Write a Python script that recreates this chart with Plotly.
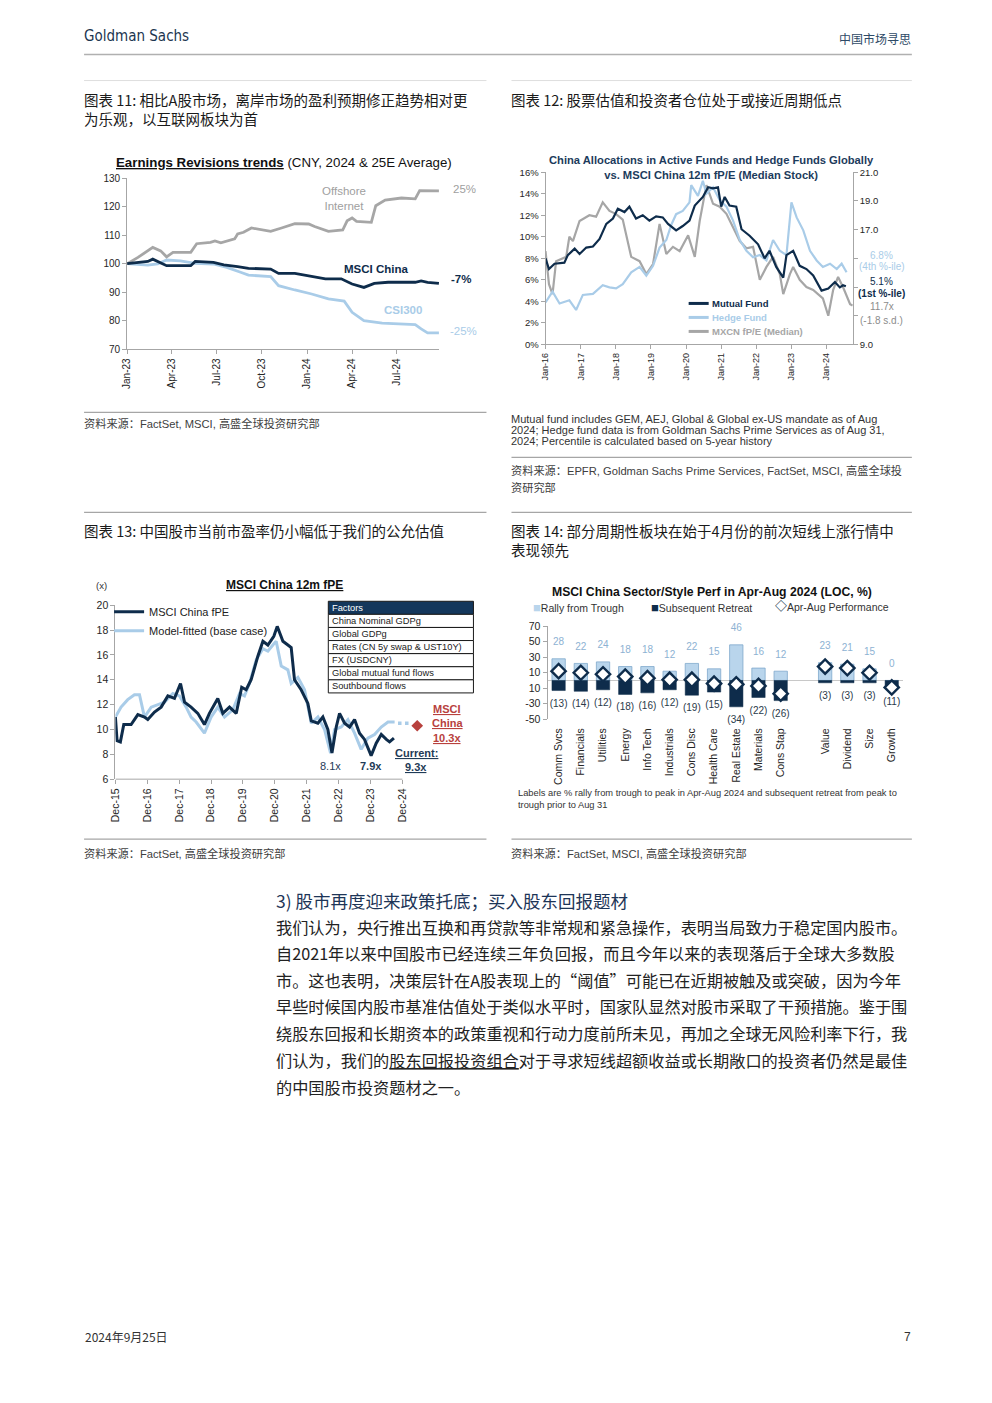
import plotly.graph_objects as go

W, H = 992, 1403
# small calibration so that page positions land where the reference shows them
SX, OX, SY, OY = 0.992, 6.0, 0.992, 5.4


def px(x):
    return ((x - OX) / SX) / W


def py(y):
    return 1 - ((y - OY) / SY) / H


NAVY = "#0e2c4b"
LBLUE = "#a9cce8"
GRAY = "#a6a6a6"
RED = "#b8413d"
TXT = "#262626"
AXC = "#a6a6a6"
CN = "Noto Sans CJK SC"
LAT = "Liberation Sans, Arial, Noto Sans CJK SC, sans-serif"

# ---------------- Chart 11: Earnings revisions ----------------
c11_internet_dates = ["2023-01-01", "2023-01-23", "2023-02-22", "2023-03-10", "2023-03-22", "2023-04-04",
                      "2023-05-10", "2023-05-22", "2023-06-19", "2023-06-28", "2023-07-10", "2023-07-22",
                      "2023-08-07", "2023-08-13", "2023-08-25", "2023-09-10", "2023-10-01", "2023-10-19",
                      "2023-11-10", "2023-12-07", "2024-01-04", "2024-01-16", "2024-02-13", "2024-03-13",
                      "2024-03-22", "2024-04-01", "2024-04-10", "2024-05-10", "2024-05-19", "2024-06-07",
                      "2024-07-10", "2024-08-07", "2024-08-16", "2024-09-24"]
c11_internet = [100, 102.2, 105.7, 104.5, 102.4, 104, 104, 107, 107.5, 108, 107.3, 108, 108.7, 110.4, 111,
                112.5, 111.8, 111.3, 112.5, 114, 113.9, 113, 111.3, 111.8, 115, 116, 114.8, 114.5, 120.3,
                122.3, 123, 122.7, 125.6, 125.5]

c11_msci_dates = ["2023-01-01", "2023-01-23", "2023-02-12", "2023-02-22", "2023-03-04", "2023-03-22",
                  "2023-05-10", "2023-05-19", "2023-06-25", "2023-07-16", "2023-08-13", "2023-09-04",
                  "2023-10-19", "2023-11-04", "2023-12-07", "2024-01-04", "2024-02-07", "2024-03-10",
                  "2024-04-01", "2024-04-25", "2024-05-16", "2024-06-13", "2024-08-07", "2024-08-19",
                  "2024-09-01", "2024-09-24"]
c11_msci = [100, 100.5, 100.8, 101.6, 100.8, 99.3, 99.3, 100.8, 100.5, 99.6, 99.0, 98.4, 98.1, 96.6, 96.6,
            95.8, 94.7, 94.7, 92.9, 91.7, 93.1, 93.5, 93.5, 94.0, 93.5, 93.1]

c11_csi_dates = ["2023-01-01", "2023-02-12", "2023-03-04", "2023-03-22", "2023-04-19", "2023-05-19",
                 "2023-06-25", "2023-07-22", "2023-08-19", "2023-09-04", "2023-10-19", "2023-11-04",
                 "2023-12-07", "2024-01-10", "2024-02-13", "2024-03-16", "2024-04-01", "2024-04-25",
                 "2024-06-01", "2024-08-07", "2024-08-19", "2024-09-01", "2024-09-24"]
c11_csi = [100, 99.5, 99.9, 101.3, 101.0, 100.1, 99.9, 98.7, 97.0, 96.0, 95.5, 92.3, 90.8, 89.4, 87.7, 86.9,
           83.0, 80.1, 79.2, 78.7, 77.2, 75.8, 75.8]

# ---------------- Chart 12: Allocations vs fP/E ----------------
c12_mf_dates = ["2016-01-01", "2016-02-06", "2016-04-04", "2016-07-15", "2016-08-20", "2016-10-30", "2016-12-20",
                "2017-02-28", "2017-05-08", "2017-07-16", "2017-09-24", "2017-12-02",
                "2018-01-22", "2018-04-01", "2018-05-22", "2018-07-30", "2018-10-08", "2018-12-16",
                "2019-02-24", "2019-05-04", "2019-06-28", "2019-09-20", "2019-11-28",
                "2020-02-06", "2020-04-01", "2020-06-24", "2020-08-18", "2020-10-08", "2020-11-28",
                "2021-01-01", "2021-02-06", "2021-03-28", "2021-06-06", "2021-07-31", "2021-10-23",
                "2022-01-19", "2022-03-28", "2022-05-18", "2022-07-27", "2022-10-08", "2022-11-10",
                "2023-01-19", "2023-03-28", "2023-06-06", "2023-08-15", "2023-11-10",
                "2024-01-19", "2024-03-28", "2024-05-18", "2024-06-20", "2024-07-20"]
c12_mf = [8.0, 7.0, 7.5, 7.6, 8.3, 8.9, 8.4,
          9.0, 9.1, 9.8, 11.2, 11.7,
          12.6, 12.3, 12.8, 11.7, 12.0, 11.5,
          11.9, 11.8, 11.2, 10.6, 11.0,
          11.5, 12.9, 13.7, 14.6, 14.5, 14.6,
          12.8, 13.7, 12.9, 12.8, 10.7, 10.1,
          9.3, 8.0, 8.7, 7.2, 6.2, 8.3,
          8.7, 7.3, 7.0, 6.4, 5.0,
          5.2, 5.8, 5.3, 5.5, 5.4]

c12_hf_dates = ["2016-01-01", "2016-03-14", "2016-05-26", "2016-09-05", "2016-11-14",
                "2017-01-23", "2017-05-08", "2017-08-18", "2017-10-27",
                "2018-01-04", "2018-03-14", "2018-06-10", "2018-09-05", "2018-11-14",
                "2019-01-23", "2019-04-01", "2019-06-10", "2019-07-31", "2019-09-20", "2019-11-28",
                "2020-02-06", "2020-02-24", "2020-05-04", "2020-06-24", "2020-07-31", "2020-10-08", "2020-12-16",
                "2021-02-24", "2021-05-04", "2021-07-13", "2021-09-20", "2021-11-28",
                "2022-02-06", "2022-04-16", "2022-06-24", "2022-09-02", "2022-11-10",
                "2023-01-01", "2023-02-24", "2023-05-04", "2023-07-13", "2023-09-20", "2023-11-24",
                "2024-02-06", "2024-04-16", "2024-06-06", "2024-07-27"]
c12_hf = [3.9, 4.9, 3.8, 4.1, 3.2,
          4.6, 4.7, 5.5, 5.3,
          5.2, 5.6, 6.7, 7.2, 6.4,
          7.3, 9.0, 9.7, 11.1, 12.1, 12.4,
          13.2, 14.8, 13.8, 15.2, 14.0, 14.6, 13.4,
          12.8, 11.5, 9.7, 8.7, 8.1,
          8.3, 7.8, 9.7, 8.7, 8.3,
          13.2, 11.8, 10.6, 8.7, 7.8, 7.2,
          7.5, 7.0, 7.5, 6.7]

c12_pe_dates = ["2016-01-01", "2016-02-06", "2016-03-14", "2016-04-20", "2016-08-03", "2016-09-05", "2016-10-12",
                "2016-12-20", "2017-04-01", "2017-06-10", "2017-08-18", "2017-10-27",
                "2018-01-01", "2018-03-14", "2018-06-10", "2018-09-05", "2018-11-14",
                "2019-01-23", "2019-04-01", "2019-06-10", "2019-08-18", "2019-10-27",
                "2020-01-23", "2020-04-01", "2020-05-22", "2020-07-31", "2020-10-08", "2020-12-16",
                "2021-02-24", "2021-05-04", "2021-07-13", "2021-09-20", "2021-11-28",
                "2022-02-06", "2022-04-16", "2022-06-24", "2022-09-02", "2022-10-08", "2022-12-16",
                "2023-01-19", "2023-03-28", "2023-06-06", "2023-08-15", "2023-11-24",
                "2024-01-19", "2024-03-10", "2024-04-30", "2024-06-20", "2024-09-02", "2024-09-28"]
c12_pe = [15.5, 13.2, 12.5, 14.8, 15.1, 16.5, 16.2, 17.6,
          18.0, 17.9, 18.9, 18.3,
          18.1, 17.7, 15.1, 14.8, 13.9,
          14.6, 17.4, 15.3, 15.8, 15.5,
          16.6, 15.1, 17.6, 20.1, 18.8, 18.6,
          18.1, 17.2, 16.2, 15.7, 15.8,
          13.5, 14.4, 15.1, 13.9, 12.5, 13.9,
          14.4, 13.5, 13.0, 12.8, 12.2,
          11.0, 12.8, 13.7, 13.0, 11.8, 11.7]

c12_right_tick_vals = [9, 11, 13, 15, 17, 19, 21]
c12_right_tick_text = ["9.0", "", "", "", "17.0", "19.0", "21.0"]

c12_notes = ["Mutual fund includes GEM, AEJ, Global & Global ex-US mandate as of Aug",
             "2024; Hedge fund data is from Goldman Sachs Prime Services as of Aug 31,",
             "2024; Percentile is calculated based on 5-year history"]

# ---------------- Chart 13: MSCI China 12m fPE ----------------
c13_pe_dates = ["2015-12-01", "2015-12-20", "2016-01-27", "2016-03-06", "2016-05-29", "2016-08-14", "2016-10-29",
                "2016-12-06", "2017-02-21", "2017-05-08", "2017-07-24", "2017-10-08", "2017-12-16",
                "2018-01-31", "2018-04-16", "2018-07-02", "2018-09-16", "2018-11-12",
                "2019-02-16", "2019-04-15", "2019-06-30", "2019-09-15", "2019-11-17",
                "2020-01-07", "2020-03-04", "2020-05-20", "2020-07-17", "2020-09-12", "2020-11-19", "2020-12-28",
                "2021-02-04", "2021-03-03", "2021-04-29", "2021-06-06", "2021-07-14", "2021-09-28", "2021-12-14",
                "2022-01-22", "2022-04-08", "2022-06-04", "2022-07-31", "2022-09-16", "2022-11-04", "2022-12-12",
                "2023-02-08", "2023-04-06", "2023-06-02", "2023-07-29", "2023-09-24", "2023-12-09",
                "2024-02-05", "2024-04-03", "2024-05-31", "2024-07-07", "2024-08-26"]
c13_pe = [11.0, 9.1, 9.0, 10.4, 10.4, 11.2, 11.0, 10.8,
          11.4, 11.8, 12.7, 12.5, 13.7,
          12.2, 11.8, 11.3, 10.4, 11.3,
          12.5, 11.3, 11.8, 11.3, 13.4,
          13.2, 14.0, 15.9, 17.1, 16.8, 17.5, 18.3,
          17.6, 17.1, 16.8, 16.6, 14.0, 13.2, 12.1,
          10.7, 10.5, 11.0, 10.0, 8.1, 10.2, 11.3,
          10.5, 10.2, 10.8, 9.7, 9.2, 7.9,
          8.9, 9.6, 9.2, 9.0, 9.3]

c13_model_dates = ["2015-12-01", "2016-02-04", "2016-04-20", "2016-07-06", "2016-09-02", "2016-10-29",
                   "2017-01-14", "2017-06-16", "2017-09-19", "2017-12-04", "2018-02-19", "2018-04-16",
                   "2018-06-13", "2018-09-16", "2018-12-01", "2019-02-16", "2019-05-04", "2019-08-08",
                   "2019-10-23", "2019-12-19", "2020-02-14", "2020-05-01", "2020-07-17", "2020-09-12",
                   "2020-11-08", "2020-12-16", "2021-02-12", "2021-04-29", "2021-06-06", "2021-08-22",
                   "2021-11-06", "2022-01-22", "2022-04-08", "2022-06-23", "2022-08-31", "2022-10-16",
                   "2022-12-31", "2023-03-18", "2023-06-02", "2023-08-17", "2023-11-01", "2024-01-17",
                   "2024-04-03", "2024-06-19", "2024-09-03"]
c13_model = [11.0, 11.8, 12.4, 12.8, 12.8, 11.0, 11.8, 12.2, 12.9, 12.7, 11.8, 11.0, 10.6, 9.7, 11.0,
             11.8, 11.0, 11.6, 12.9, 12.7, 13.7, 15.6, 16.5, 16.3, 16.8, 17.1, 15.1, 14.8, 13.7, 14.2,
             13.2, 10.5, 11.0, 10.0, 8.1, 10.0, 10.2, 10.8, 9.7, 8.4, 9.3, 9.6, 10.2, 10.6, 10.6]

c13_fcst_dates = ["2024-10-12", "2025-03-13"]
c13_fcst = [10.5, 10.5]
c13_target_dates = ["2025-05-20"]
c13_target = [10.3]

c13_factors = ["China Nominal GDPg", "Global GDPg", "Rates (CN 5y swap & UST10Y)", "FX (USDCNY)",
               "Global mutual fund flows", "Southbound flows"]

# ---------------- Chart 14: Sector / style performance ----------------
c14_sectors = ["Comm Svcs", "Financials", "Utilities", "Energy", "Info Tech", "Industrials", "Cons Disc",
               "Health Care", "Real Estate", "Materials", "Cons Stap", "Value", "Dividend", "Size", "Growth"]
c14_axis_order = ["Comm Svcs", "Financials", "Utilities", "Energy", "Info Tech", "Industrials", "Cons Disc",
                  "Health Care", "Real Estate", "Materials", "Cons Stap", " ", "Value", "Dividend", "Size",
                  "Growth"]
c14_rally = [28, 22, 24, 18, 18, 12, 22, 15, 46, 16, 12, 23, 21, 15, 0]
c14_retreat = [-13, -14, -12, -18, -16, -12, -19, -15, -34, -22, -26, -3, -3, -3, -11]
c14_perf = [12, 10, 8, 5, 3, 1, 1, -4, -5, -7, -17, 18, 16, 10, -9]
c14_ytick_vals = [70, 50, 30, 10, -10, -30, -50]
c14_ytick_text = ["70", "50", "30", "10", "10", "-30", "-50"]

fig = go.Figure()

# ---- chart 11 traces
fig.add_trace(go.Scatter(x=c11_csi_dates, y=c11_csi, xaxis="x", yaxis="y", mode="lines",
                         line=dict(color=LBLUE, width=2.8), showlegend=False, hoverinfo="skip"))
fig.add_trace(go.Scatter(x=c11_internet_dates, y=c11_internet, xaxis="x", yaxis="y", mode="lines",
                         line=dict(color=GRAY, width=2.8), showlegend=False, hoverinfo="skip"))
fig.add_trace(go.Scatter(x=c11_msci_dates, y=c11_msci, xaxis="x", yaxis="y", mode="lines",
                         line=dict(color=NAVY, width=2.8), showlegend=False, hoverinfo="skip"))

# ---- chart 12 traces (y2 right = fP/E, y3 left = %)
fig.add_trace(go.Scatter(x=c12_pe_dates, y=c12_pe, xaxis="x2", yaxis="y2", mode="lines",
                         line=dict(color=GRAY, width=2.2), showlegend=False, hoverinfo="skip"))
fig.add_trace(go.Scatter(x=c12_hf_dates, y=c12_hf, xaxis="x2", yaxis="y3", mode="lines",
                         line=dict(color=LBLUE, width=2.2), showlegend=False, hoverinfo="skip"))
fig.add_trace(go.Scatter(x=c12_mf_dates, y=c12_mf, xaxis="x2", yaxis="y3", mode="lines",
                         line=dict(color=NAVY, width=2.2), showlegend=False, hoverinfo="skip"))

# ---- chart 13 traces
fig.add_trace(go.Scatter(x=c13_model_dates, y=c13_model, xaxis="x3", yaxis="y4", mode="lines",
                         name="Model-fitted (base case)", legendrank=2,
                         line=dict(color=LBLUE, width=3), hoverinfo="skip"))
fig.add_trace(go.Scatter(x=c13_pe_dates, y=c13_pe, xaxis="x3", yaxis="y4", mode="lines",
                         name="MSCI China fPE", legendrank=1,
                         line=dict(color=NAVY, width=3), hoverinfo="skip"))
fig.add_trace(go.Scatter(x=c13_fcst_dates, y=c13_fcst, xaxis="x3", yaxis="y4", mode="lines",
                         line=dict(color=LBLUE, width=3.5, dash="dot"), showlegend=False, hoverinfo="skip"))
fig.add_trace(go.Scatter(x=c13_target_dates, y=c13_target, xaxis="x3", yaxis="y4", mode="markers",
                         marker=dict(symbol="diamond", size=9, color=RED), showlegend=False,
                         cliponaxis=False, hoverinfo="skip"))

# ---- chart 14 traces
fig.add_trace(go.Bar(x=c14_sectors, y=c14_rally, xaxis="x4", yaxis="y5", width=0.6,
                     marker=dict(color="#b9d5ec", line=dict(color="#7fa8cc", width=0.8)),
                     showlegend=False, hoverinfo="skip"))
fig.add_trace(go.Bar(x=c14_sectors, y=c14_retreat, xaxis="x4", yaxis="y5", width=0.6,
                     marker=dict(color=NAVY, line=dict(color=NAVY, width=0.5)),
                     showlegend=False, hoverinfo="skip"))
fig.add_trace(go.Scatter(x=c14_sectors, y=c14_perf, xaxis="x4", yaxis="y5", mode="markers",
                         marker=dict(symbol="diamond", size=11, color="white",
                                     line=dict(color=NAVY, width=2.4)),
                         showlegend=False, hoverinfo="skip", cliponaxis=False))
fig.add_trace(go.Scatter(x=c14_sectors, y=c14_rally, xaxis="x4", yaxis="y5", mode="markers+text",
                         marker=dict(size=16, opacity=0),
                         text=[str(v) for v in c14_rally], textposition="top center",
                         textfont=dict(family=LAT, size=10, color="#8db2d3"),
                         showlegend=False, hoverinfo="skip", cliponaxis=False))
fig.add_trace(go.Scatter(x=c14_sectors, y=c14_retreat, xaxis="x4", yaxis="y5", mode="markers+text",
                         marker=dict(size=12, opacity=0),
                         text=[f"({-v})" for v in c14_retreat], textposition="bottom center",
                         textfont=dict(family=LAT, size=10, color="#2a3a4a"),
                         showlegend=False, hoverinfo="skip", cliponaxis=False))


def axis(**kw):
    base = dict(showgrid=False, zeroline=False, showline=True, linecolor=AXC, linewidth=1,
                ticks="outside", tickcolor=AXC, ticklen=4,
                tickfont=dict(family=LAT, size=10, color=TXT))
    base.update(kw)
    return base


anns = []


def ann(text, x, y, size=11, color=TXT, family=LAT, xanchor="left", yanchor="middle", align="left"):
    anns.append(dict(text=text, x=px(x), y=py(y), xref="paper", yref="paper", showarrow=False,
                     font=dict(size=size, color=color, family=family), xanchor=xanchor,
                     yanchor=yanchor, align=align))


shapes = []


def hline(x0, x1, y, color="#a6a6a6", width=1.2):
    shapes.append(dict(type="line", xref="paper", yref="paper", x0=px(x0), x1=px(x1), y0=py(y), y1=py(y),
                       line=dict(color=color, width=width)))


def rect(x0, x1, y0, y1, fill, line="#1a1a1a"):
    shapes.append(dict(type="rect", xref="paper", yref="paper", x0=px(x0), x1=px(x1), y0=py(y1), y1=py(y0),
                       fillcolor=fill, line=dict(color=line, width=1)))


# ---- page header / footer
ann("Goldman Sachs", 81, 35, size=15, color="#1c3650",
    family="DejaVu Sans Condensed, Liberation Sans Narrow, Liberation Sans, Arial")
ann("中国市场寻思", 911, 38, size=12, color="#2e4a66", family=CN, xanchor="right")
hline(83, 910, 54, "#b0b0b0", 1.5)
ann("2024年9月25日", 82, 1337, size=12, color="#333", family=CN)
ann("7", 911, 1337, size=12, color="#333", xanchor="right")

# ---- section lines
hline(83, 485, 80, "#dedede", 1)
hline(510, 910, 80, "#dedede", 1)
hline(83, 485, 412, "#a6a6a6", 1.3)
hline(510, 910, 457, "#a6a6a6", 1.3)
hline(83, 485, 512, "#a6a6a6", 1.3)
hline(510, 910, 512, "#a6a6a6", 1.3)
hline(83, 485, 839, "#a6a6a6", 1.3)
hline(510, 910, 839, "#a6a6a6", 1.3)

# ---- captions
ann("图表 11: 相比A股市场，离岸市场的盈利预期修正趋势相对更<br>为乐观，以互联网板块为首", 81, 108.5, size=14.5,
    color="#1a1a1a", family=CN)
ann("图表 12: 股票估值和投资者仓位处于或接近周期低点", 508, 99, size=14.5, color="#1a1a1a", family=CN)
ann("图表 13: 中国股市当前市盈率仍小幅低于我们的公允估值", 81, 530, size=14.5, color="#1a1a1a", family=CN)
ann("图表 14: 部分周期性板块在始于4月份的前次短线上涨行情中<br>表现领先", 508, 539.5, size=14.5,
    color="#1a1a1a", family=CN)

# ---- sources
ann("资料来源：FactSet, MSCI, 高盛全球投资研究部", 81, 423, size=11.2, color="#404040")
ann("资料来源：EPFR, Goldman Sachs Prime Services, FactSet, MSCI, 高盛全球投", 508, 470, size=11.2,
    color="#404040")
ann("资研究部", 508, 487, size=11.2, color="#404040")
ann("资料来源：FactSet, 高盛全球投资研究部", 81, 853, size=11.2, color="#404040")
ann("资料来源：FactSet, MSCI, 高盛全球投资研究部", 508, 853, size=11.2, color="#404040")

# ---- chart 11 texts
ann("<b><u>Earnings Revisions trends</u></b> (CNY, 2024 & 25E Average)", 283, 162, size=13.3, color="#111",
    xanchor="center")
ann("Offshore<br>Internet", 343, 198, size=11.5, color="#a0a0a0", xanchor="center", align="center")
ann("25%", 463, 189, size=11.5, color="#a0a0a0", xanchor="center")
ann("<b>MSCI China</b>", 375, 269, size=11.5, color=NAVY, xanchor="center")
ann("<b>-7%</b>", 460, 279, size=11.5, color=NAVY, xanchor="center")
ann("<b>CSI300</b>", 402, 310, size=11.5, color=LBLUE, xanchor="center")
ann("-25%", 462, 331, size=11.5, color=LBLUE, xanchor="center")

# ---- chart 12 texts
ann("<b>China Allocations in Active Funds and Hedge Funds Globally<br>vs. MSCI China 12m fP/E (Median Stock)</b>",
    710, 167, size=11.2, color="#1c3b5c", xanchor="center", align="center")
legend12 = [("Mutual Fund", NAVY, 303), ("Hedge Fund", LBLUE, 317), ("MXCN fP/E (Median)", GRAY, 331)]
for name, col, yy in legend12:
    shapes.append(dict(type="line", xref="paper", yref="paper", x0=px(687), x1=px(707), y0=py(yy), y1=py(yy),
                       line=dict(color=col, width=3)))
    ann(f"<b>{name}</b>", 708, yy, size=9.5, color=col)
ann("6.8%", 880, 255, size=10, color=LBLUE, xanchor="center")
ann("(4th %-ile)", 880, 266, size=10, color=LBLUE, xanchor="center")
ann("5.1%", 880, 281, size=10, color=NAVY, xanchor="center")
ann("<b>(1st %-ile)</b>", 880, 293, size=10, color=NAVY, xanchor="center")
ann("11.7x", 880, 306, size=10, color="#8c8c8c", xanchor="center")
ann("(-1.8 s.d.)", 880, 320, size=10, color="#8c8c8c", xanchor="center")
for i, line in enumerate(c12_notes):
    ann(line, 508, 419 + i * 11, size=11, color="#333")

# ---- chart 13 texts
ann("(x)", 100, 585, size=9.5, color="#333", xanchor="center")
ann("<b><u>MSCI China 12m fPE</u></b>", 283, 585, size=12, color="#111", xanchor="center")
ann("8.1x", 329, 766, size=11, color="#1f3b57", xanchor="center")
ann("<b>7.9x</b>", 370, 766, size=11, color="#1f3b57", xanchor="center")
ann("<b><u>Current:</u></b>", 415, 753, size=11, color="#1f3b57", xanchor="center")
ann("<b><u>9.3x</u></b>", 415, 767, size=11, color="#1f3b57", xanchor="center")
ann("<b><u>MSCI</u></b>", 446, 709, size=11, color=RED, xanchor="center")
ann("<b><u>China</u></b>", 446, 723, size=11, color=RED, xanchor="center")
ann("<b><u>10.3x</u></b>", 446, 738, size=11, color=RED, xanchor="center")
shapes.append(dict(type="line", xref="x3", yref="y4 domain", x0="2015-12-01", x1="2024-12-01", y0=0, y1=0,
                   line=dict(color=AXC, width=1)))

# factor table (header + rows)
TOP, ROWH = 601, 13.1
rect(327, 472, TOP, TOP + ROWH, "#14375c")
ann("Factors", 329, TOP + ROWH / 2, size=9.3, color="white")
for i, f in enumerate(c13_factors):
    y0 = TOP + ROWH * (i + 1)
    rect(327, 472, y0, y0 + ROWH, "white")
    ann(f, 329, y0 + ROWH / 2, size=9.3, color="#1a1a1a")

# ---- chart 14 texts
ann("<b>MSCI China Sector/Style Perf in Apr-Aug 2024 (LOC, %)</b>", 710, 592, size=12.2, color="#111",
    xanchor="center")
ann('<span style="color:#b9d5ec;font-size:13px">■</span>Rally from Trough', 530, 607, size=10.5, color="#333")
ann(f'<span style="color:{NAVY};font-size:13px">■</span>Subsequent Retreat', 647, 607, size=10.5, color="#333")
ann(f'<span style="color:{NAVY};font-size:12px"><b>◇</b></span>Apr-Aug Performance', 771, 607, size=10.5,
    color="#333")
ann("Labels are % rally from trough to peak in Apr-Aug 2024 and subsequent retreat from peak to", 515, 793,
    size=9.3, color="#333")
ann("trough prior to Aug 31", 515, 805, size=9.3, color="#333")

# ---- body text
ann("3) 股市再度迎来政策托底；买入股东回报题材", 273, 900, size=17.5, color="#1d3557", family=CN)
body = [
    "我们认为，央行推出互换和再贷款等非常规和紧急操作，表明当局致力于稳定国内股市。",
    "自2021年以来中国股市已经连续三年负回报，而且今年以来的表现落后于全球大多数股",
    "市。这也表明，决策层针在A股表现上的“阈值”可能已在近期被触及或突破，因为今年",
    "早些时候国内股市基准估值处于类似水平时，国家队显然对股市采取了干预措施。鉴于围",
    "绕股东回报和长期资本的政策重视和行动力度前所未见，再加之全球无风险利率下行，我",
    "们认为，我们的<u>股东回报投资组合</u>对于寻求短线超额收益或长期敞口的投资者仍然是最佳",
    "的中国股市投资题材之一。",
]
body_y = [927, 953, 980, 1006, 1033, 1060, 1087]
for t, yy in zip(body, body_y):
    ann(t, 273, yy, size=16.2, color="#222", family=CN)

fig.update_layout(
    width=W, height=H, autosize=False,
    margin=dict(l=0, r=0, t=0, b=0),
    paper_bgcolor="white", plot_bgcolor="white",
    font=dict(family=LAT, color=TXT),
    barmode="relative",
    showlegend=True,
    legend=dict(x=px(108), y=py(597), xanchor="left", yanchor="top", bgcolor="rgba(0,0,0,0)",
                font=dict(family=LAT, size=11, color="#222"), itemwidth=30, tracegroupgap=0),
    xaxis=axis(domain=[px(126), px(438)], anchor="y", type="date", range=["2023-01-01", "2024-09-25"],
               tick0="2023-01-01", dtick="M3", tickformat="%b-%y", tickangle=-90),
    yaxis=axis(domain=[py(349), py(177.5)], anchor="x", range=[70, 130], dtick=10, tick0=70),
    xaxis2=axis(domain=[px(544), px(851)], anchor="y2", type="date", range=["2016-01-01", "2024-09-30"],
                tick0="2016-01-01", dtick="M12", tickformat="%b-%y", tickangle=-90,
                tickfont=dict(family=LAT, size=9, color=TXT)),
    yaxis2=axis(domain=[py(344), py(171.7)], anchor="x2", side="right", range=[9, 21],
                tickvals=c12_right_tick_vals, ticktext=c12_right_tick_text,
                tickfont=dict(family=LAT, size=9.5, color=TXT)),
    yaxis3=axis(overlaying="y2", anchor="x2", side="left", range=[0, 16], dtick=2, tick0=0, ticksuffix="%",
                tickfont=dict(family=LAT, size=9.5, color=TXT)),
    xaxis3=axis(domain=[px(114.3), px(419.5)], anchor="y4", type="date", range=["2015-12-01", "2025-07-01"],
                tick0="2015-12-01", dtick="M12", tickformat="%b-%y", tickangle=-90, showline=False,
                tickfont=dict(family=LAT, size=10.5, color=TXT)),
    yaxis4=axis(domain=[py(779), py(605)], anchor="x3", range=[6, 20], dtick=2, tick0=6,
                tickfont=dict(family=LAT, size=10.5, color=TXT)),
    xaxis4=axis(domain=[px(546), px(901)], anchor="y5", type="category", categoryorder="array",
                categoryarray=c14_axis_order, range=[-0.5, 15.5], tickangle=-90, showline=False, ticks="",
                ticklabelstandoff=6, tickfont=dict(family=LAT, size=10.5, color=TXT)),
    yaxis5=axis(domain=[py(719), py(626)], anchor="x4", range=[-50, 70], tickvals=c14_ytick_vals,
                ticktext=c14_ytick_text, zeroline=True, zerolinecolor="#c8c8c8", zerolinewidth=1,
                tickfont=dict(family=LAT, size=10.5, color=TXT)),
    annotations=anns,
    shapes=shapes,
)

fig.write_html("out.html", config={"displayModeBar": False},
               post_script="document.body.style.margin='0';document.body.style.padding='0';"
                           "document.documentElement.style.overflow='hidden';")
